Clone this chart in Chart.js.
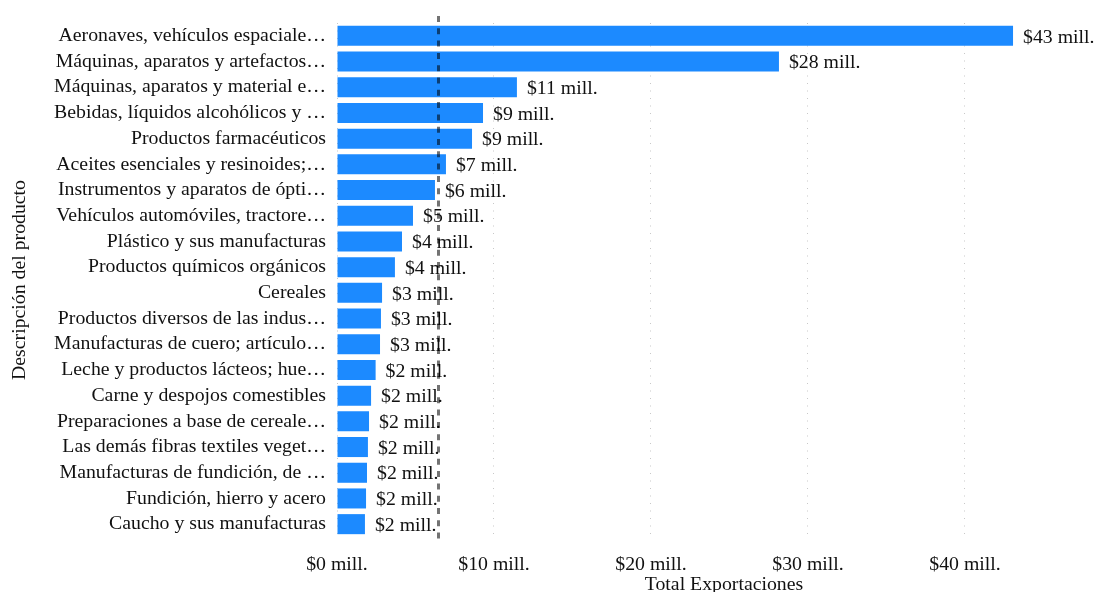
<!DOCTYPE html>
<html>
<head>
<meta charset="utf-8">
<script src="https://cdn.jsdelivr.net/npm/chart.js@4/dist/chart.umd.min.js"></script>
<style>
    html, body { margin: 0; padding: 0; background: #fff; overflow: hidden; }
    #wrap { width: 1120px; height: 597px; }
</style>
</head>
<body>
<div id="wrap"><canvas id="exportChart"></canvas></div>
<script>
// Exportaciones por producto (millones de USD)
const productos = [
    'Aeronaves, vehículos espaciale…',
    'Máquinas, aparatos y artefactos…',
    'Máquinas, aparatos y material e…',
    'Bebidas, líquidos alcohólicos y …',
    'Productos farmacéuticos',
    'Aceites esenciales y resinoides;…',
    'Instrumentos y aparatos de ópti…',
    'Vehículos automóviles, tractore…',
    'Plástico y sus manufacturas',
    'Productos químicos orgánicos',
    'Cereales',
    'Productos diversos de las indus…',
    'Manufacturas de cuero; artículo…',
    'Leche y productos lácteos; hue…',
    'Carne y despojos comestibles',
    'Preparaciones a base de cereale…',
    'Las demás fibras textiles veget…',
    'Manufacturas de fundición, de …',
    'Fundición, hierro y acero',
    'Caucho y sus manufacturas'
];
const exportaciones = [43.06, 28.15, 11.46, 9.3, 8.6, 6.94, 6.24, 4.84, 4.14, 3.69,
    2.87, 2.8, 2.74, 2.46, 2.17, 2.04, 1.97, 1.91, 1.85, 1.78];
const promedio = 6.43;
const ejeTicks = [0, 10, 20, 30, 40];
const ejeMax = 49.3;

const serif = "'Liberation Serif', 'Times New Roman', serif";
const fontSize = 19.8;
const fmt = v => '$' + Math.round(v) + ' mill.';

// etiquetas de valor al final de cada barra
const valueLabels = {
    id: 'valueLabels',
    afterDatasetsDraw(chart) {
        const ctx = chart.ctx;
        const meta = chart.getDatasetMeta(0);
        ctx.save();
        ctx.font = fontSize + 'px ' + serif;
        ctx.fillStyle = '#111';
        ctx.textAlign = 'left';
        ctx.textBaseline = 'middle';
        meta.data.forEach((bar, i) => {
            ctx.fillText(fmt(exportaciones[i]), bar.x + 10, bar.y + 1.5);
        });
        ctx.restore();
    }
};

// linea punteada del promedio
const meanLine = {
    id: 'meanLine',
    afterDraw(chart) {
        const { ctx, chartArea } = chart;
        const x = Math.round(chart.scales.x.getPixelForValue(promedio)) + 0.5;
        ctx.save();
        ctx.strokeStyle = 'rgba(0, 0, 0, 0.55)';
        ctx.lineWidth = 3;
        ctx.setLineDash([6, 6.3]);
        ctx.beginPath();
        ctx.moveTo(x, chartArea.top - 7);
        ctx.lineTo(x, chartArea.bottom + 8);
        ctx.stroke();
        ctx.restore();
    }
};

new Chart(document.getElementById('exportChart'), {
    type: 'bar',
    data: {
        labels: productos,
        datasets: [{
            data: exportaciones,
            backgroundColor: '#1c8aff',
            borderWidth: 0,
            barPercentage: 0.78,
            categoryPercentage: 1
        }]
    },
    options: {
        indexAxis: 'y',
        responsive: true,
        maintainAspectRatio: false,
        animation: false,
        layout: { padding: { top: 23, right: 9, bottom: 0, left: 0 } },
        plugins: { legend: { display: false }, tooltip: { enabled: false } },
        scales: {
            x: {
                min: 0,
                max: ejeMax,
                afterBuildTicks: scale => { scale.ticks = ejeTicks.map(v => ({ value: v })); },
                afterFit: scale => { scale.height = 60; },
                grid: { color: '#c8c8c8', lineWidth: 1, drawTicks: false },
                border: { display: false, dash: [1, 6.5] },
                ticks: {
                    padding: 16,
                    color: '#111',
                    font: { family: serif, size: fontSize },
                    callback: v => fmt(v)
                },
                title: {
                    display: true,
                    text: 'Total Exportaciones',
                    color: '#111',
                    font: { family: serif, size: fontSize },
                    padding: { top: 0, bottom: 0 }
                }
            },
            y: {
                afterFit: scale => { scale.width = 337; },
                grid: { display: false, drawTicks: false },
                border: { display: false },
                ticks: {
                    padding: 11,
                    color: '#111',
                    font: { family: serif, size: fontSize },
                    autoSkip: false
                },
                title: {
                    display: true,
                    text: 'Descripción del producto',
                    color: '#111',
                    font: { family: serif, size: fontSize },
                    padding: { top: 8, bottom: 0 }
                }
            }
        }
    },
    plugins: [valueLabels, meanLine]
});
</script>
</body>
</html>
